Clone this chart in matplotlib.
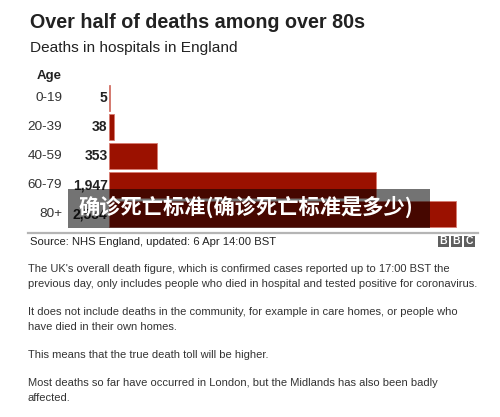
import matplotlib
matplotlib.use("Agg")
from matplotlib import pyplot as plt
from matplotlib.patches import Rectangle

# Deaths in hospitals in England by age group
ages = ["0-19", "20-39", "40-59", "60-79", "80+"]
deaths = [5, 38, 353, 1947, 2534]
death_labels = ["5", "38", "353", "1,947", "2,534"]

title = "Over half of deaths among over 80s"
subtitle = "Deaths in hospitals in England"
source = "Source: NHS England, updated: 6 Apr 14:00 BST"
paragraphs = [
    ["The UK's overall death figure, which is confirmed cases reported up to 17:00 BST the",
     "previous day, only includes people who died in hospital and tested positive for coronavirus."],
    ["It does not include deaths in the community, for example in care homes, or people who",
     "have died in their own homes."],
    ["This means that the true death toll will be higher."],
    ["Most deaths so far have occurred in London, but the Midlands has also been badly",
     "affected."],
]
overlay = "确诊死亡标准(确诊死亡标准是多少)"

W, H = 500, 417
plt.rcParams["font.family"] = ["Liberation Sans", "DejaVu Sans"]
fig = plt.figure(figsize=(W / 100, H / 100), dpi=100)
fig.patch.set_facecolor("white")


def fx(px):
    return px / W


def fy(py):
    return 1 - py / H


# headings
fig.text(fx(30), fy(22), title, fontsize=14.2, fontweight="bold", color="#222222", va="center")
fig.text(fx(30), fy(48), subtitle, fontsize=11.1, color="#222222", va="center")
fig.text(fx(37), fy(76), "Age", fontsize=9.5, fontweight="bold", color="#222222", va="center")

# bars
ax = fig.add_axes([fx(109), fy(229), 356 / W, 146 / H])
ypos = list(range(len(ages)))
ax.barh(ypos, deaths, height=0.89, color="#9b1100", edgecolor="#d77a70", linewidth=0.6)
ax.set_xlim(0, 2600)
ax.set_ylim(len(ages) - 0.5, -0.5)
ax.axis("off")
tr = ax.get_yaxis_transform()
for i, (a, lab) in enumerate(zip(ages, death_labels)):
    ax.text(-0.132, i, a, transform=tr, ha="right", va="center", fontsize=9.7, color="#333333")
    ax.text(-0.004, i, lab, transform=tr, ha="right", va="center", fontsize=10,
            fontweight="bold", color="#222222")

# divider line
fig.add_artist(plt.Line2D([fx(28), fx(478)], [fy(233), fy(233)], color="#b5b5b5", lw=1.6))
fig.text(fx(30), fy(242), source, fontsize=8.1, color="#222222", va="center")

# BBC blocks
for k, letter in enumerate("BBC"):
    x0 = 438 + k * 13
    fig.patches.append(Rectangle((fx(x0), fy(247)), 11 / W, 11 / H, transform=fig.transFigure,
                                 facecolor="#5f5f5f", edgecolor="none"))
    fig.text(fx(x0 + 5.5), fy(241.5), letter, fontsize=7.5, fontweight="bold", color="white",
             ha="center", va="center")

# body paragraphs
line_y = [[269, 284], [312, 327], [355], [383, 398]]
for para, ys in zip(paragraphs, line_y):
    for line, y in zip(para, ys):
        fig.text(fx(28), fy(y), line, fontsize=8.05, color="#333333", va="center")

# watermark overlay
fig.patches.append(Rectangle((fx(68), fy(228)), 362 / W, 39 / H, transform=fig.transFigure,
                             facecolor="black", alpha=0.55, edgecolor="none", zorder=10))
fig.text(fx(78), fy(207), overlay, fontsize=15.3, fontweight="bold", color="white",
         va="center", family=["Noto Sans CJK SC", "DejaVu Sans"], zorder=11)

plt.savefig("out.png", dpi=100)
